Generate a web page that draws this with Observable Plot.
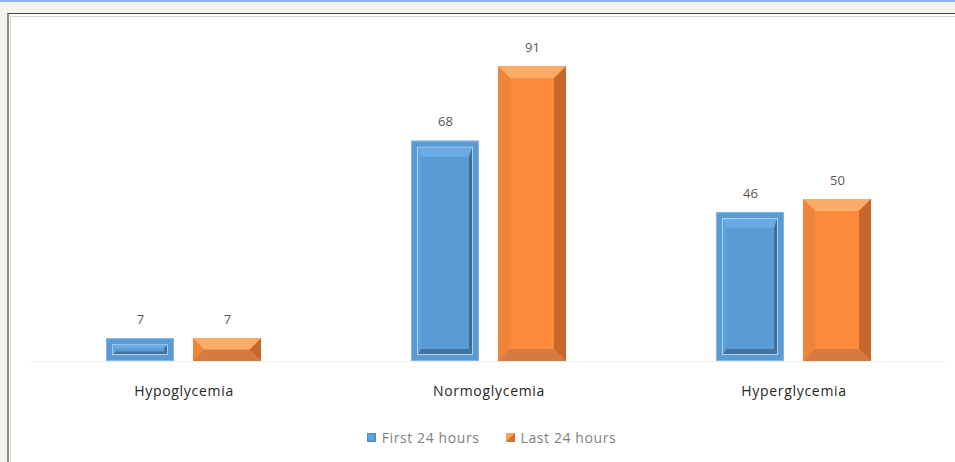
<!DOCTYPE html>
<html>
<head>
<meta charset="utf-8">
<script src="https://cdn.jsdelivr.net/npm/d3@7"></script>
<script src="https://cdn.jsdelivr.net/npm/@observablehq/plot@0.6"></script>
<style>
  html, body { margin: 0; padding: 0; }
  body { width: 955px; height: 462px; overflow: hidden; background: #f3f3ee; position: relative; font-family: "Open Sans", "Liberation Sans", sans-serif; }
  #topline { position: absolute; left: 0; top: 0; width: 955px; height: 2px; background: #8fb3e2; }
  #frame { position: absolute; left: 7px; top: 13px; width: 980px; height: 460px; border-top: 1px solid #3e3e3e; border-left: 2px solid #8a8a86; background: #fff; }
  #frame-inner { position: absolute; left: 1px; top: 2px; right: 0; bottom: 0; border-top: 1px solid #d6d6d6; border-left: 1px solid #d6d6d6; }
  #chart { position: absolute; left: 0; top: 0; }
  #chart svg { display: block; overflow: visible; }
  #legend { position: absolute; left: 32px; top: 411px; width: 913px; height: 52px; display: flex; justify-content: center; align-items: center; padding-left: 6px; box-sizing: border-box; font-size: 14px; color: #7f7f7f; letter-spacing: 0.6px; }
  .item { display: flex; align-items: center; margin: 0 13px; }
  .item svg { margin-right: 6px; }
</style>
</head>
<body>
<div id="topline"></div>
<div id="frame"><div id="frame-inner"></div></div>
<div id="chart"></div>
<div id="legend"></div>
<script>
const categories = ["Hypoglycemia", "Normoglycemia", "Hyperglycemia"];
const series = ["First 24 hours", "Last 24 hours"];
const first24 = [7, 68, 46];
const last24 = [7, 91, 50];
const seriesColors = ["#5b9bd5", "#ed7d31"];

const data = categories.flatMap((c, i) => [
  {cat: c, series: series[0], value: first24[i]},
  {cat: c, series: series[1], value: last24[i]}
]);

function poly(g, pts, fill) {
  g.append("polygon").attr("points", pts.map(p => p.join(",")).join(" ")).attr("fill", fill);
}

function bevelRender(index, scales, values) {
  const g = d3.create("svg:g");
  let bw = scales.x.bandwidth;
  bw = typeof bw === "function" ? bw() : bw;
  for (const i of index) {
    const x0 = values.x[i], x1 = x0 + bw;
    const t = Math.min(values.y1[i], values.y2[i]);
    const b = Math.max(values.y1[i], values.y2[i]);
    const h = b - t;
    if (data[i].series === series[1]) {
      const B = Math.min(12, h / 2, bw / 2);
      const TL = [x0, t], TR = [x1, t], BR = [x1, b], BL = [x0, b];
      const iTL = [x0 + B, t + B], iTR = [x1 - B, t + B], iBR = [x1 - B, b - B], iBL = [x0 + B, b - B];
      poly(g, [iTL, iTR, iBR, iBL], "#fc8a3b");
      poly(g, [TL, TR, iTR, iTL], "#fbad67");
      poly(g, [TR, BR, iBR, iTR], "#c8672b");
      poly(g, [BR, BL, iBL, iBR], "#d57a40");
      poly(g, [BL, TL, iTL, iBL], "#ef8538");
    } else {
      g.append("rect").attr("x", x0 + 0.5).attr("y", t + 0.5).attr("width", bw - 1).attr("height", h - 1)
        .attr("fill", "#5b9bd5").attr("stroke", "#86b6e3").attr("stroke-width", 1);
      const k = Math.min(6, h / 3.8);
      const ax = x0 + k, ay = t + k, bx = x1 - k, by = b - k;
      g.append("rect").attr("x", ax + 0.5).attr("y", ay + 0.5).attr("width", bx - ax - 1).attr("height", by - ay - 1)
        .attr("fill", "none").attr("stroke", "#afd0ef").attr("stroke-width", 1);
      const cx0 = ax + 1, cy0 = ay + 1, cx1 = bx - 1, cy1 = by - 1;
      const ih = cy1 - cy0;
      const dt = Math.min(9, ih * 0.35), db = Math.min(5, ih * 0.3), dl = 3, dr = 3;
      const TL = [cx0, cy0], TR = [cx1, cy0], BR = [cx1, cy1], BL = [cx0, cy1];
      const iTL = [cx0 + dl, cy0 + dt], iTR = [cx1 - dr, cy0 + dt], iBR = [cx1 - dr, cy1 - db], iBL = [cx0 + dl, cy1 - db];
      poly(g, [iTL, iTR, iBR, iBL], "#5b9bd5");
      poly(g, [TL, TR, iTR, iTL], "#6aabe7");
      poly(g, [TR, BR, iBR, iTR], "#3f6e9b");
      poly(g, [BR, BL, iBL, iBR], "#44739f");
      poly(g, [BL, TL, iTL, iBL], "#5fa0dc");
    }
  }
  return g.node();
}

const chart = Plot.plot({
  width: 955,
  height: 410,
  marginTop: 37,
  marginBottom: 49,
  marginLeft: 30,
  marginRight: 8,
  style: {background: "transparent", fontFamily: "'Open Sans', 'Liberation Sans', sans-serif", fontSize: "14px", color: "#262626"},
  fx: {domain: categories, padding: 0, axis: "bottom", tickSize: 0, tickPadding: 25, label: null},
  x: {domain: series, axis: null, paddingInner: 0.218, paddingOuter: 0.862, round: false},
  y: {domain: [0, 100], axis: null},
  color: {domain: series, range: seriesColors},
  marks: [
    Plot.ruleY([0], {stroke: "#eeeeee", strokeWidth: 1}),
    Plot.barY(data, {fx: "cat", x: "series", y: "value", fill: "series"}),
    Plot.barY(data, {fx: "cat", x: "series", y: "value", fill: "series", render: bevelRender}),
    Plot.text(data, {fx: "cat", x: "series", y: "value", text: d => String(d.value), dy: -19, fill: "#595959", fontSize: 13})
  ]
});
document.getElementById("chart").appendChild(chart);
d3.select(chart).selectAll('[aria-label^="fx-axis"] text, g[aria-label="fx-axis"] text').style("letter-spacing", "0.7px").attr("fill", "#262626");

const legend = d3.select("#legend");
series.forEach((s, i) => {
  const it = legend.append("div").attr("class", "item");
  const sw = it.append("svg").attr("width", 9).attr("height", 9);
  if (i === 0) {
    sw.append("rect").attr("width", 9).attr("height", 9).attr("fill", "#4f8fcc");
    sw.append("rect").attr("x", 1).attr("y", 1).attr("width", 6).attr("height", 6).attr("fill", "#5ea3e3");
  } else {
    sw.append("rect").attr("width", 9).attr("height", 9).attr("fill", "#d9712c");
    sw.append("polygon").attr("points", "0,0 9,0 0,9").attr("fill", "#f7a25a");
  }
  it.append("span").text(s);
});
</script>
</body>
</html>
